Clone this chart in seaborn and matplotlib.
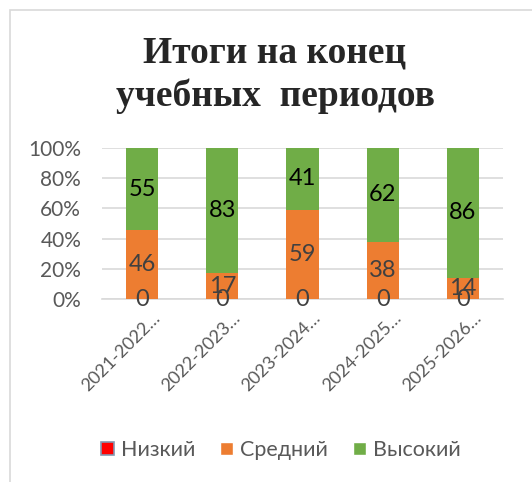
import seaborn as sns
import matplotlib.pyplot as plt
import matplotlib.transforms as mtransforms
import pandas as pd
from matplotlib.patches import Rectangle

# data
periods = ["2021-2022…", "2022-2023…", "2023-2024…", "2024-2025…", "2025-2026…"]
low = [0, 0, 0, 0, 0]
mid = [46, 17, 59, 38, 14]
high = [55, 83, 41, 62, 86]
series = ["Низкий", "Средний", "Высокий"]
colors = ["#FF0000", "#ED7D31", "#70AD47"]

df = pd.DataFrame({"period": periods, "low": low, "mid": mid, "high": high})
total = df["low"] + df["mid"] + df["high"]
df["p_low"] = df["low"] / total * 100
df["p_mid"] = df["p_low"] + df["mid"] / total * 100
df["p_high"] = df["p_mid"] + df["high"] / total * 100

sns.set_theme(style="white")
plt.rcParams["font.family"] = ["Lato", "DejaVu Sans"]

fig = plt.figure(figsize=(5.32, 4.82), dpi=100)
ax = fig.add_axes([102 / 532, 1 - 299 / 482, 401 / 532, 151 / 482])

# stacked 100% bars, drawn from top layer down
for col, c in zip(["p_high", "p_mid", "p_low"], colors[::-1]):
    sns.barplot(data=df, x="period", y=col, color=c, width=0.4,
                saturation=1, linewidth=0, ax=ax, zorder=3)

ax.set_ylim(0, 100)
ax.set_xlim(-0.5, 4.5)
ax.set_yticks(range(0, 101, 20))
ax.set_yticklabels([f"{v}%" for v in range(0, 101, 20)])
ax.yaxis.grid(True, color="#D9D9D9", linewidth=1.2, zorder=0)
ax.set_axisbelow(True)
for s in ["top", "right", "left"]:
    ax.spines[s].set_visible(False)
ax.spines["bottom"].set_color("#D9D9D9")
ax.spines["bottom"].set_linewidth(1.2)
ax.set_xlabel("")
ax.set_ylabel("")
ax.tick_params(axis="y", labelsize=15, colors="#595959", length=0, pad=15)
ax.tick_params(axis="x", labelsize=13, colors="#595959", length=0, pad=8)
shift = mtransforms.ScaledTranslation(10 / 100, 0, fig.dpi_scale_trans)
for lbl in ax.get_xticklabels():
    lbl.set_rotation(45)
    lbl.set_ha("right")
    lbl.set_rotation_mode("anchor")
    lbl.set_transform(lbl.get_transform() + shift)

# data labels
for i in range(len(periods)):
    ax.text(i, df["p_low"][i] / 2, str(low[i]), ha="center", va="center",
            fontsize=17, color="#404040", zorder=5)
    ax.text(i, (df["p_low"][i] + df["p_mid"][i]) / 2, str(mid[i]), ha="center",
            va="center", fontsize=17, color="#404040", zorder=5)
    ax.text(i, (df["p_mid"][i] + df["p_high"][i]) / 2, str(high[i]), ha="center",
            va="center", fontsize=17, color="black", zorder=5)

fig.text(275 / 532, 1 - 75 / 482, "Итоги на конец\nучебных  периодов",
         ha="center", va="center", fontsize=27, fontweight="bold",
         family="Liberation Serif", linespacing=1.3)

handles = [Rectangle((0, 0), 1, 1, facecolor=colors[0], edgecolor="#8497B0", linewidth=1.2),
           Rectangle((0, 0), 1, 1, facecolor=colors[1]),
           Rectangle((0, 0), 1, 1, facecolor=colors[2])]
leg = fig.legend(handles, series, loc="center", bbox_to_anchor=(281 / 532, 1 - 450 / 482),
                 ncol=3, frameon=False, fontsize=15.5, handlelength=0.6, handleheight=0.6,
                 handletextpad=0.33, columnspacing=1.15)
for t in leg.get_texts():
    t.set_color("#595959")

# chart border
fig.add_artist(Rectangle((10 / 532, -0.1), 1.2, 1 - 10 / 482 + 0.1, transform=fig.transFigure,
                         fill=False, edgecolor="#D9D9D9", linewidth=1.2))

fig.savefig("out.png", dpi=100)
